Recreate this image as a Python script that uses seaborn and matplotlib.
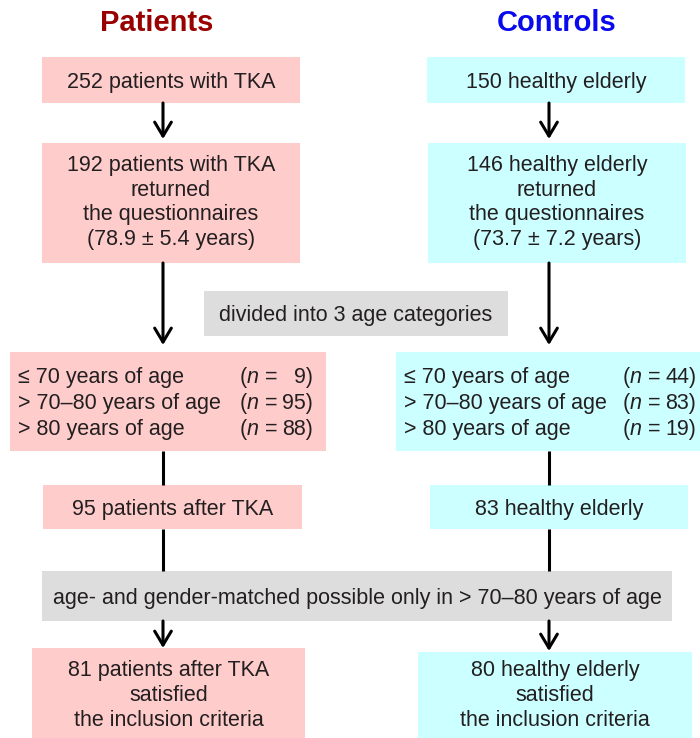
import matplotlib
matplotlib.use("Agg")
import matplotlib.pyplot as plt
from matplotlib.patches import Rectangle
import seaborn as sns

# ---------------- data ----------------
group_titles = ["Patients", "Controls"]
patients_steps = ["252 patients with TKA",
                  "192 patients with TKA\nreturned\nthe questionnaires\n(78.9 ± 5.4 years)",
                  "95 patients after TKA",
                  "81 patients after TKA\nsatisfied\nthe inclusion criteria"]
controls_steps = ["150 healthy elderly",
                  "146 healthy elderly\nreturned\nthe questionnaires\n(73.7 ± 7.2 years)",
                  "83 healthy elderly",
                  "80 healthy elderly\nsatisfied\nthe inclusion criteria"]
age_categories = ["≤ 70 years of age", "> 70–80 years of age", "> 80 years of age"]
patients_n = [9, 95, 88]
controls_n = [44, 83, 19]
shared_steps = ["divided into 3 age categories",
                "age- and gender-matched possible only in > 70–80 years of age"]

# ---------------- style ----------------
sns.set_theme(style="white")
plt.rcParams["font.family"] = ["Liberation Sans", "DejaVu Sans"]
plt.rcParams["mathtext.fontset"] = "custom"
plt.rcParams["mathtext.rm"] = "Liberation Sans"
plt.rcParams["mathtext.it"] = "Liberation Sans:italic"

PINK = "#ffcccc"
CYAN = "#ccffff"
GRAY = "#dddddd"
TXT = "#231f20"
FS = 15.5
LS = 1.24
DY = 2.5  # visual centering offset (pixels)

fig = plt.figure(figsize=(7.0, 7.38), dpi=100)
ax = fig.add_axes([0, 0, 1, 1])
ax.set_xlim(0, 700)
ax.set_ylim(738, 0)
ax.axis("off")
renderer = fig.canvas.get_renderer()
EM = FS * 100 / 72.0


def box(x0, y0, x1, y1, color):
    ax.add_patch(Rectangle((x0, y0), x1 - x0, y1 - y0, facecolor=color,
                           edgecolor="none", zorder=1))


def centered(x, y, s):
    ax.text(x, y + DY, s, ha="center", va="center", fontsize=FS, color=TXT,
            linespacing=LS, zorder=3)


def arrow(x, y0, y1, head=True):
    if head:
        ax.annotate("", xy=(x, y1), xytext=(x, y0),
                    arrowprops=dict(arrowstyle="->,head_length=0.5,head_width=0.3",
                                    lw=2.2, color="black", shrinkA=0, shrinkB=0,
                                    mutation_scale=20), zorder=2)
    else:
        ax.plot([x, x], [y0, y1], color="black", lw=2.2, zorder=2,
                solid_capstyle="butt")


# titles
ax.text(157, 23, group_titles[0], ha="center", va="center", fontsize=21,
        fontweight="bold", color="#990000")
ax.text(557, 23, group_titles[1], ha="center", va="center", fontsize=21,
        fontweight="bold", color="#0a0aee")

# column geometry
cols = [
    dict(steps=patients_steps, color=PINK, ax_x=163,
         b1=(42, 57, 300, 103), b2=(42, 143, 300, 263),
         b3=(10, 352, 326, 451), b4=(43, 485, 302, 529), b5=(32, 648, 305, 740),
         tx=18, nx=239, n=patients_n),
    dict(steps=controls_steps, color=CYAN, ax_x=549,
         b1=(427, 57, 685, 103), b2=(428, 143, 686, 263),
         b3=(396, 352, 702, 451), b4=(430, 485, 688, 529), b5=(418, 652, 692, 740),
         tx=404, nx=622, n=controls_n),
]

inv = ax.transData.inverted()

for c in cols:
    for key, label in zip(["b1", "b2", "b4", "b5"], c["steps"]):
        x0, y0, x1, y1 = c[key]
        box(x0, y0, x1, y1, c["color"])
    x0, y0, x1, y1 = c["b1"]; centered((x0 + x1) / 2, 80, c["steps"][0])
    x0, y0, x1, y1 = c["b2"]; centered((x0 + x1) / 2, 200, c["steps"][1])
    x0, y0, x1, y1 = c["b4"]; centered((x0 + x1) / 2, 507, c["steps"][2])
    x0, y0, x1, y1 = c["b5"]; centered((x0 + x1) / 2, 693, c["steps"][3])

    x0, y0, x1, y1 = c["b3"]
    box(x0, y0, x1, y1, c["color"])
    for i, (cat, n) in enumerate(zip(age_categories, c["n"])):
        y = 375 + i * 26 + DY
        ax.text(c["tx"], y, cat, ha="left", va="center", fontsize=FS, color=TXT, zorder=3)
        pre = ax.text(c["nx"], y, r"($\it{n}$ =", ha="left", va="center",
                      fontsize=FS, color=TXT, zorder=3)
        bb = pre.get_window_extent(renderer)
        xend = inv.transform((bb.x1, 0))[0]
        xnum = xend + 0.22 * EM + (0.556 * EM if n < 10 else 0)
        ax.text(xnum, y, f"{n})", ha="left", va="center", fontsize=FS,
                color=TXT, zorder=3)

    x = c["ax_x"]
    arrow(x, 103, 139)
    arrow(x, 263, 345)
    arrow(x, 451, 485, head=False)
    arrow(x, 529, 571, head=False)
    arrow(x, 621, 648 if x < 350 else 651)

# shared gray boxes
box(204, 291, 508, 336, GRAY)
centered(356, 313, shared_steps[0])
box(42, 571, 672, 621, GRAY)
centered(357, 596, shared_steps[1])

fig.savefig("out.png", dpi=100, facecolor="white")
